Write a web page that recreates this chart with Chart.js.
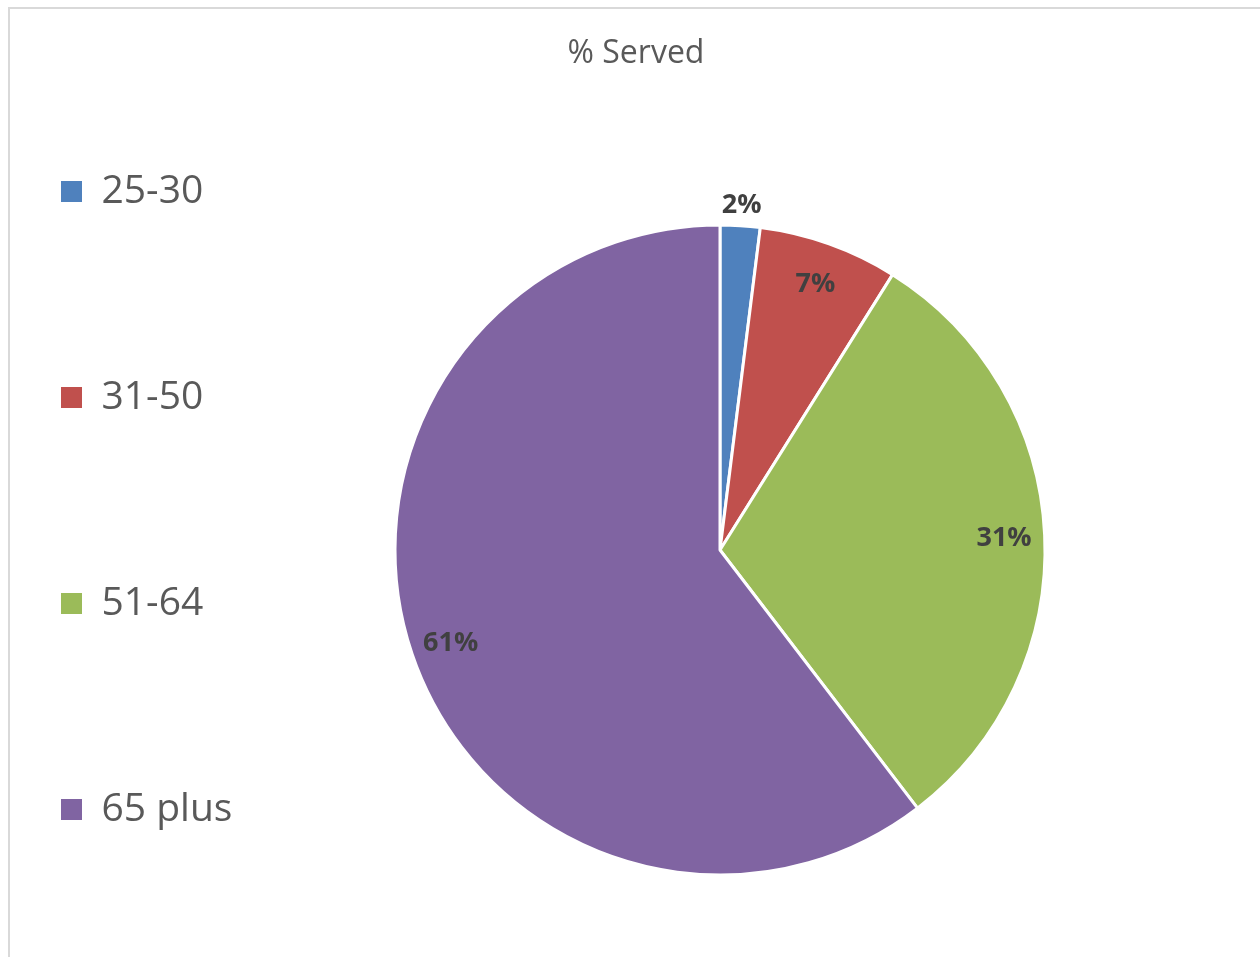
<!DOCTYPE html>
<html>
<head>
<meta charset="utf-8">
<title>% Served</title>
<script src="https://cdn.jsdelivr.net/npm/chart.js@4.4.1/dist/chart.umd.min.js"></script>
<style>
    html, body { margin: 0; padding: 0; background: #fff; overflow: hidden; }
    #wrap { position: relative; width: 1260px; height: 957px; overflow: hidden; }
    #frame { position: absolute; left: 8px; top: 7px; width: 1300px; height: 1000px; border: 2px solid #d9d9d9; box-sizing: border-box; }
    #servedPie { position: absolute; left: 0; top: 0; }
</style>
</head>
<body>
<div id="wrap">
    <div id="frame"></div>
    <canvas id="servedPie" width="1231" height="996"></canvas>
</div>
<script>
// Data
const ageGroups = ['25-30', '31-50', '51-64', '65 plus'];
const servedValues = [2, 7, 31, 61];
const sliceColors = ['#4F81BD', '#C0504D', '#9BBB59', '#8064A2'];

// Percent labels on the slices (small slices go outside)
const pieLabels = {
    id: 'pieLabels',
    afterDatasetsDraw(chart) {
        const ctx = chart.ctx;
        const meta = chart.getDatasetMeta(0);
        ctx.save();
        ctx.font = 'bold 27px "Open Sans"';
        ctx.fillStyle = '#404040';
        ctx.textAlign = 'center';
        ctx.textBaseline = 'middle';
        meta.data.forEach((arc, i) => {
            const p = arc.getProps(['x', 'y', 'startAngle', 'endAngle', 'outerRadius'], true);
            const mid = (p.startAngle + p.endAngle) / 2;
            const small = (p.endAngle - p.startAngle) < 0.2;
            const r = small ? p.outerRadius + 22 : p.outerRadius * 0.875;
            ctx.fillText(servedValues[i] + '%', p.x + Math.cos(mid) * r, p.y + Math.sin(mid) * r + 2);
        });
        ctx.restore();
    }
};

// legend box is kept narrow for the layout, let the text run past it
const legendRoom = {
    id: 'legendRoom',
    afterLayout(chart) {
        chart.legend.width += 60;
        chart.legend.right += 60;
    }
};

const ctxServed = document.getElementById('servedPie');
const servedPie = new Chart(ctxServed, {
    type: 'pie',
    data: {
        labels: ageGroups,
        datasets: [{
            data: servedValues,
            backgroundColor: sliceColors,
            borderColor: '#ffffff',
            borderWidth: 3,
            radius: 325
        }]
    },
    options: {
        responsive: false,
        animation: false,
        layout: {
            padding: { left: 41, top: 0, right: 0, bottom: 0 }
        },
        plugins: {
            title: {
                display: true,
                text: '% Served',
                color: '#595959',
                font: { family: '"Open Sans"', size: 32, weight: 'normal', lineHeight: 1.2 },
                padding: { top: 34.5, bottom: 31.1 }
            },
            legend: {
                position: 'left',
                align: 'end',
                maxWidth: 168,
                labels: {
                    boxWidth: 21,
                    boxHeight: 21,
                    padding: 20,
                    color: '#595959',
                    font: { family: '"Open Sans"', size: 39, lineHeight: '186px' },
                    generateLabels(chart) {
                        const items = Chart.overrides.doughnut.plugins.legend.labels.generateLabels(chart);
                        return items.map(item => Object.assign(item, {
                            text: [item.text],
                            strokeStyle: item.fillStyle,
                            lineWidth: 0
                        }));
                    }
                }
            },
            tooltip: { enabled: false }
        }
    },
    plugins: [pieLabels, legendRoom]
});
</script>
</body>
</html>
